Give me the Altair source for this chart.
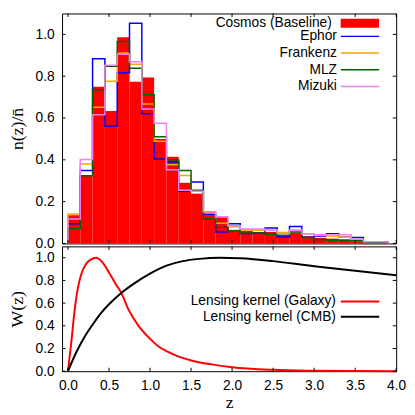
import altair as alt
import pandas as pd

# ---------------- data ----------------
bin_starts = [0.0, 0.15, 0.3, 0.45, 0.6, 0.75, 0.9, 1.05, 1.2, 1.35, 1.5, 1.65, 1.8,
              1.95, 2.1, 2.25, 2.4, 2.55, 2.7, 2.85, 3.0, 3.15, 3.3, 3.45, 3.6, 3.75]
bin_ends = [0.15, 0.3, 0.45, 0.6, 0.75, 0.9, 1.05, 1.2, 1.35, 1.5, 1.65, 1.8, 1.95,
            2.1, 2.25, 2.4, 2.55, 2.7, 2.85, 3.0, 3.15, 3.3, 3.45, 3.6, 3.75, 3.9]

cosmos = [0.135, 0.325, 0.75, 0.634, 0.986, 0.773, 0.794, 0.50, 0.415, 0.29, 0.238, 0.149, 0.125,
          0.065, 0.061, 0.055, 0.055, 0.039, 0.052, 0.034, 0.027, 0.023, 0.019, 0.013, 0.008, 0.006]
ephor = [0.094, 0.349, 0.884, 0.562, 0.817, 1.053, 0.62, 0.404, 0.39, 0.25, 0.294, 0.14, 0.055,
         0.094, 0.047, 0.05, 0.074, 0.031, 0.081, 0.03, 0.036, 0.047, 0.03, 0.028, 0.008, 0.006]
frankenz = [0.141, 0.38, 0.652, 0.776, 0.911, 0.857, 0.667, 0.489, 0.376, 0.325, 0.25, 0.145, 0.097,
            0.08, 0.066, 0.063, 0.063, 0.052, 0.063, 0.047, 0.039, 0.035, 0.03, 0.013, 0.008, 0.006]
mlz = [0.07, 0.324, 0.735, 0.848, 0.966, 0.838, 0.711, 0.51, 0.399, 0.349, 0.255, 0.117, 0.078,
       0.06, 0.05, 0.05, 0.044, 0.039, 0.055, 0.028, 0.019, 0.015, 0.015, 0.013, 0.006, 0.006]
mizuki = [0.117, 0.402, 0.616, 0.853, 0.905, 0.869, 0.643, 0.575, 0.352, 0.255, 0.25, 0.152, 0.128,
          0.085, 0.069, 0.069, 0.063, 0.047, 0.063, 0.045, 0.042, 0.04, 0.042, 0.02, 0.008, 0.008]

line_names = ["Ephor", "Frankenz", "MLZ", "Mizuki"]
line_values = [ephor, frankenz, mlz, mizuki]
line_colors = ["#0000ff", "#ffa500", "#006400", "#ee82ee"]
fill_name = "Cosmos (Baseline)"

z_gal = [0.0, 0.04, 0.08, 0.12, 0.16, 0.22, 0.28, 0.34, 0.42, 0.5, 0.58, 0.65, 0.74, 0.86,
         0.98, 1.1, 1.22, 1.34, 1.5, 1.75, 2.0, 2.5, 3.0, 3.5, 4.0]
w_gal = [0.0, 0.25, 0.53, 0.73, 0.85, 0.945, 0.985, 1.0, 0.96, 0.87, 0.77, 0.69, 0.54, 0.40,
         0.30, 0.22, 0.17, 0.13, 0.095, 0.06, 0.035, 0.012, 0.004, 0.001, 0.0]
z_cmb = [0.0, 0.1, 0.2, 0.3, 0.4, 0.5, 0.65, 0.8, 1.0, 1.2, 1.4, 1.6, 1.85, 2.1, 2.5, 3.0, 3.5, 4.0]
w_cmb = [0.0, 0.165, 0.30, 0.41, 0.51, 0.59, 0.69, 0.77, 0.86, 0.93, 0.97, 0.99, 1.0, 0.995,
         0.97, 0.925, 0.885, 0.845]
kernel_names = ["Lensing kernel (Galaxy)", "Lensing kernel (CMB)"]
kernel_colors = ["#ff0000", "#000000"]

x_ticks = [0.0, 0.5, 1.0, 1.5, 2.0, 2.5, 3.0, 3.5, 4.0]
y_ticks = [0.0, 0.2, 0.4, 0.6, 0.8, 1.0]

# ---------------- tables ----------------
df_bar = pd.DataFrame({"z0": bin_starts, "z1": bin_ends, "v": cosmos, "method": fill_name})

rows = []
for name, vals in zip(line_names, line_values):
    pts = [(bin_starts[0], 0.0)] + list(zip(bin_starts, vals)) + [(bin_ends[-1], vals[-1]), (bin_ends[-1], 0.0)]
    for i, (z, v) in enumerate(pts):
        rows.append({"method": name, "i": i, "z": z, "v": v})
df_step = pd.DataFrame(rows)

df_k = pd.concat([
    pd.DataFrame({"z": z_gal, "W": w_gal, "kernel": kernel_names[0]}),
    pd.DataFrame({"z": z_cmb, "W": w_cmb, "kernel": kernel_names[1]}),
])
df_xt = pd.DataFrame({"t": x_ticks})
df_yt = pd.DataFrame({"t": y_ticks})

# ---------------- layout ----------------
W = 340
H_TOP = 234
H_BOT = 127
TL = 3.5  # inward tick length

xs = alt.Scale(domain=[-0.072, 4.0], nice=False, zero=False)
ys_top = alt.Scale(domain=[0, 1.1], nice=False)
ys_bot = alt.Scale(domain=[0, 1.1], nice=False)

ax_y_top = alt.Axis(values=y_ticks, format=".1f", title="n(z)/n\u0304",
                    labelPadding=8, titlePadding=9, labelFlush=False)
ax_y_bot = alt.Axis(values=y_ticks, format=".1f", title="W(z)",
                    labelPadding=8, titlePadding=9, labelFlush=False)
ax_x_bot = alt.Axis(values=x_ticks, format=".1f", title="z", labelPadding=8,
                    titlePadding=1, labelFlush=False)


def inward_ticks(h, yscale, xaxis, yaxis):
    b = alt.Chart(df_xt).mark_rule(color="black", strokeWidth=1).encode(
        x=alt.X("t:Q", scale=xs, axis=xaxis), y=alt.value(h), y2=alt.value(h - TL))
    t = alt.Chart(df_xt).mark_rule(color="black", strokeWidth=1).encode(
        x=alt.X("t:Q", scale=xs, axis=xaxis), y=alt.value(0), y2=alt.value(TL))
    l = alt.Chart(df_yt).mark_rule(color="black", strokeWidth=1).encode(
        y=alt.Y("t:Q", scale=yscale, axis=yaxis), x=alt.value(0), x2=alt.value(TL))
    r = alt.Chart(df_yt).mark_rule(color="black", strokeWidth=1).encode(
        y=alt.Y("t:Q", scale=yscale, axis=yaxis), x=alt.value(W - TL), x2=alt.value(W))
    return [b, t, l, r]


def legend(x, y, shape, size, sw, offset, rowpad):
    return alt.Legend(orient="none", legendX=x, legendY=y, title=None,
                      symbolType=shape, symbolSize=size, symbolStrokeWidth=sw,
                      symbolOpacity=1, rowPadding=rowpad,
                      labelAlign="right", labelOffset={"expr": str(offset)},
                      labelFont="Liberation Sans", labelFontSize=14, labelColor="black",
                      labelLimit=300)


bars = alt.Chart(df_bar).mark_bar(strokeWidth=0).encode(
    x=alt.X("z0:Q", scale=xs, axis=None),
    x2="z1:Q",
    y=alt.Y("v:Q", scale=ys_top, axis=ax_y_top),
    y2=alt.datum(0),
    fill=alt.Fill("method:N", scale=alt.Scale(domain=[fill_name], range=["#ff0000"]),
                  legend=legend(296, 3.0, "M-3,-0.7H3V0.7H-3Z", 169, 0, -35.5, 2)),
)

steps = alt.Chart(df_step).mark_line(interpolate="step-after", strokeWidth=1.5).encode(
    x=alt.X("z:Q", scale=xs, axis=None),
    y=alt.Y("v:Q", scale=ys_top, axis=ax_y_top),
    stroke=alt.Stroke("method:N", scale=alt.Scale(domain=line_names, range=line_colors),
                      legend=legend(295.7, 15.8, "M-3,0H3", 169, 1.5, -31, 2.0)),
    order="i:Q",
)

top = alt.layer(bars, steps, *inward_ticks(H_TOP, ys_top, None, ax_y_top)).properties(
    width=W, height=H_TOP)

kern = alt.Chart(df_k).mark_line(interpolate="monotone", strokeWidth=2).encode(
    x=alt.X("z:Q", scale=xs, axis=ax_x_bot),
    y=alt.Y("W:Q", scale=ys_bot, axis=ax_y_bot),
    stroke=alt.Stroke("kernel:N", scale=alt.Scale(domain=kernel_names, range=kernel_colors),
                      legend=legend(295.7, 48.5, "M-3,0H3", 169, 2, -32, 0.5)),
)

bottom = alt.layer(kern, *inward_ticks(H_BOT, ys_bot, ax_x_bot, ax_y_bot)).properties(
    width=W, height=H_BOT)

chart = alt.vconcat(top, bottom, spacing=3, bounds="flush").resolve_scale(
    x="independent", y="independent", stroke="independent"
).properties(
    padding={"left": 0, "top": 1, "right": 0, "bottom": 0}
).configure_view(
    stroke="black", strokeWidth=1
).configure_axis(
    labelFont="Liberation Sans", labelFontSize=14, labelColor="black",
    titleFont="Liberation Serif", titleFontSize=18, titleFontWeight="normal",
    titleColor="black", grid=False, domain=False, ticks=False
)

chart.save("out.html", embed_options={"renderer": "svg", "actions": False})
